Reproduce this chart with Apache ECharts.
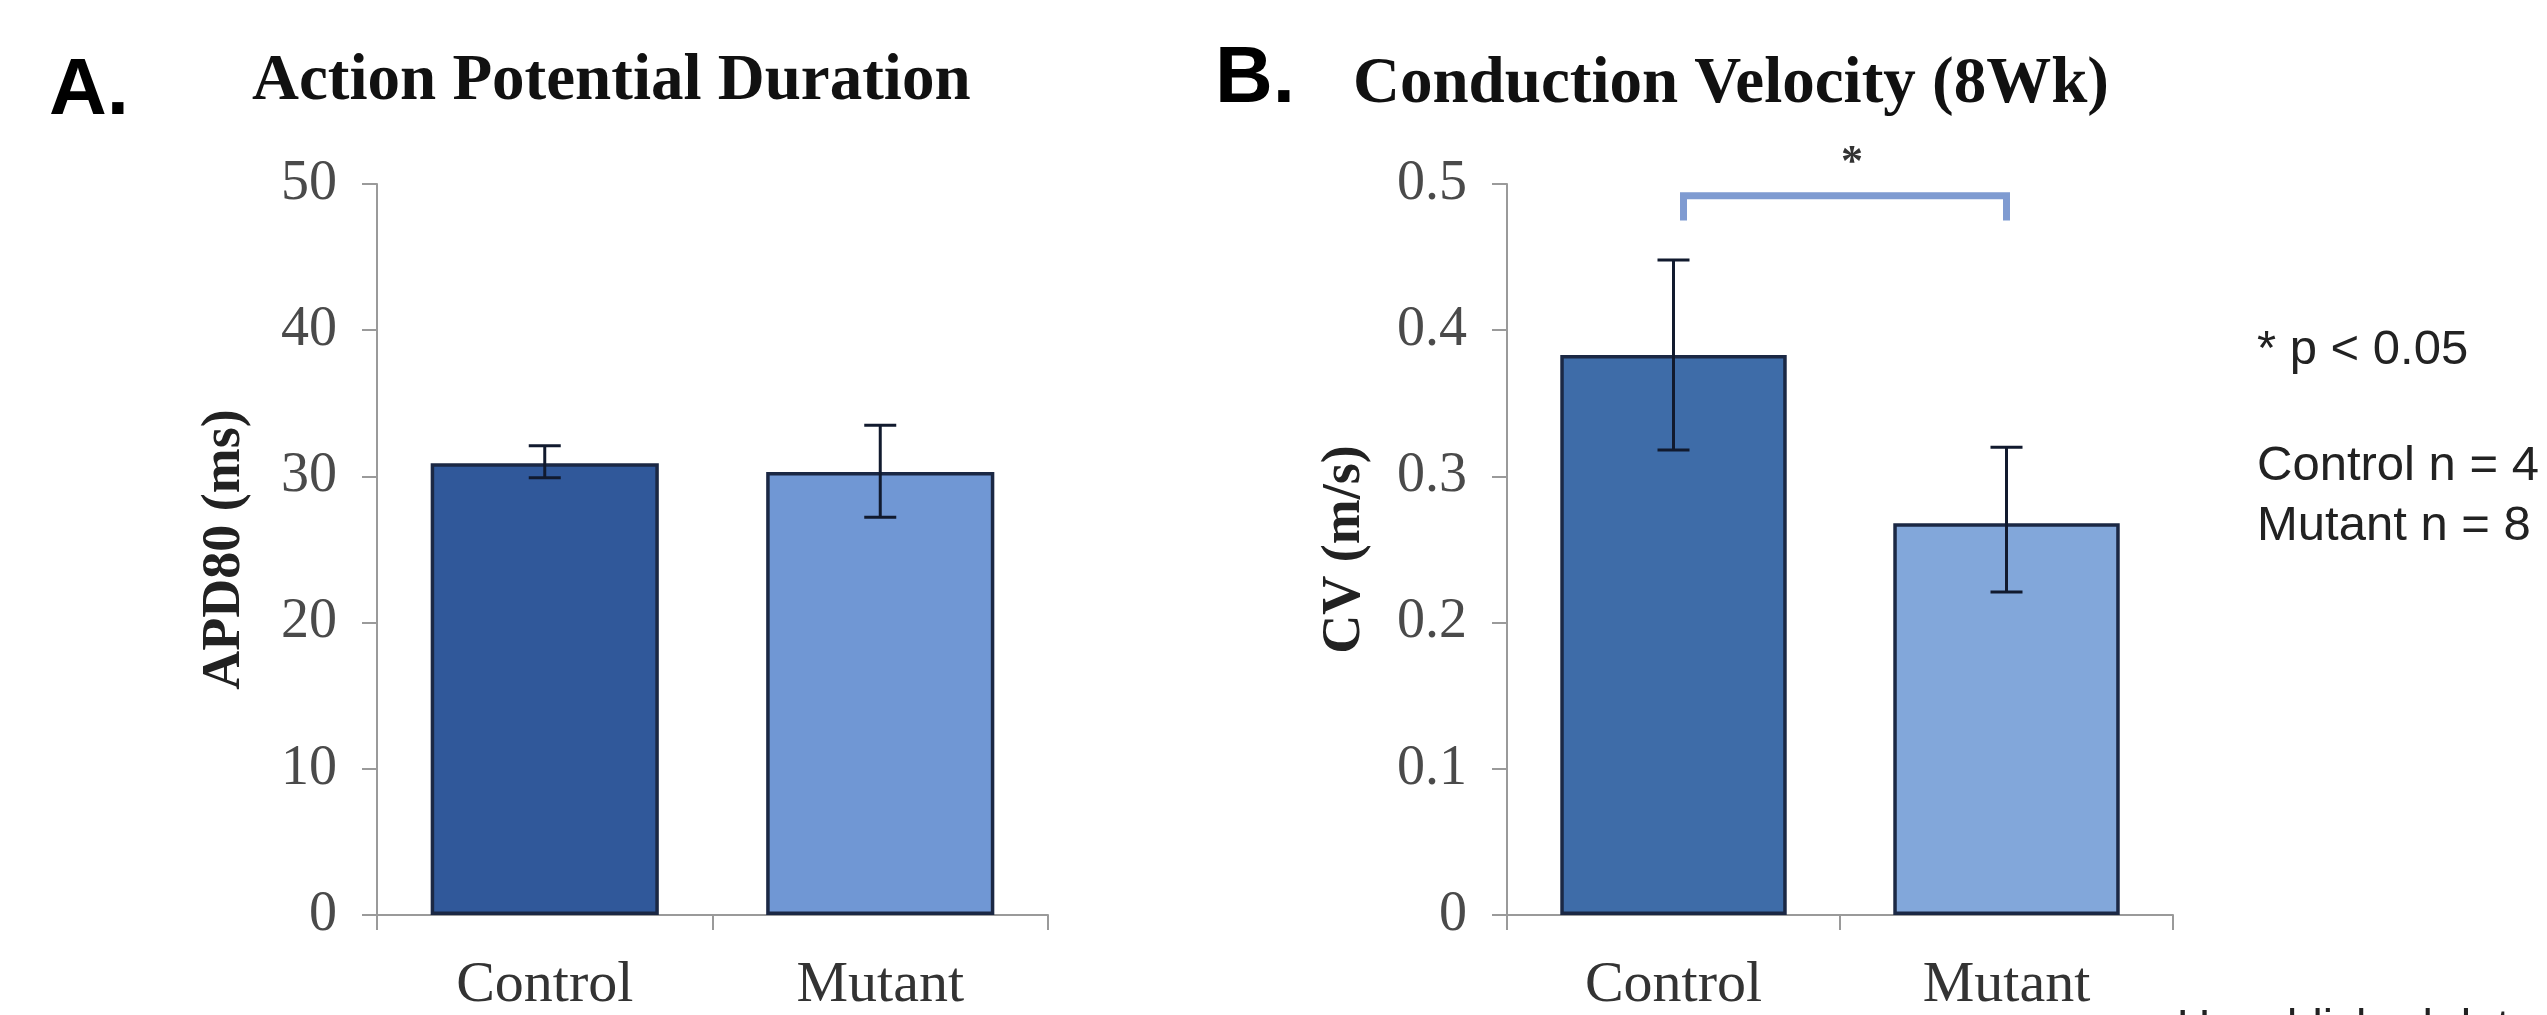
<!DOCTYPE html>
<html>
<head>
<meta charset="utf-8">
<script src="https://cdn.jsdelivr.net/npm/echarts@6/dist/echarts.min.js"></script>
<style>html,body{margin:0;padding:0;background:#fff;}#c{width:2547px;height:1015px;}</style>
</head>
<body>
<div id="c"></div>
<script>
// ---- data ----
const categories = ['Control', 'Mutant'];
const apdMean = [30.9, 30.3];
const apdLow = [29.9, 27.2];
const apdHigh = [32.1, 33.5];
const cvMean = [0.383, 0.268];
const cvLow = [0.318, 0.221];
const cvHigh = [0.448, 0.320];
const apdTicks = [0, 10, 20, 30, 40, 50];
const cvTicks = [0, 0.1, 0.2, 0.3, 0.4, 0.5];
const sigBracket = [0.492, 0.475]; // top, leg end
const sigStarY = 0.514;

const colorsA = ['#30589a', '#7097d4'];
const colorsB = ['#3e6ca8', '#82a7da'];
const serif = "'Liberation Serif', 'DejaVu Serif', serif";
const sans = "'Liberation Sans', Arial, sans-serif";

const chart = echarts.init(document.getElementById('c'));

function yAxisCfg(gridIndex, ticks, name, nameGap, fmt) {
  return {
    type: 'value', gridIndex, min: ticks[0], max: ticks[ticks.length - 1], interval: ticks[1] - ticks[0],
    name, nameLocation: 'middle', nameGap,
    nameTextStyle: { fontFamily: serif, fontWeight: 'bold', fontSize: 54, color: '#222' },
    axisLine: { show: true, lineStyle: { color: '#9a9a9a', width: 2 } },
    axisTick: { show: true, length: 15, lineStyle: { color: '#9a9a9a', width: 2 } },
    splitLine: { show: false },
    axisLabel: { fontFamily: serif, fontSize: 56, color: '#4a4a4a', margin: 40, formatter: fmt }
  };
}
function xAxisCfg(gridIndex) {
  return {
    type: 'category', gridIndex, data: categories,
    axisLine: { show: true, lineStyle: { color: '#9a9a9a', width: 2 } },
    axisTick: { show: true, length: 15, lineStyle: { color: '#9a9a9a', width: 2 } },
    axisLabel: { fontFamily: serif, fontSize: 58, color: '#333', margin: 42 }
  };
}
function errRender(params, api) {
  const x = api.value(0);
  const lo = api.coord([x, api.value(1)]);
  const hi = api.coord([x, api.value(2)]);
  const w = 16;
  const st = { stroke: '#111a2e', lineWidth: 3 };
  return { type: 'group', children: [
    { type: 'line', shape: { x1: lo[0], y1: lo[1], x2: hi[0], y2: hi[1] }, style: st },
    { type: 'line', shape: { x1: lo[0]-w, y1: lo[1], x2: lo[0]+w, y2: lo[1] }, style: st },
    { type: 'line', shape: { x1: hi[0]-w, y1: hi[1], x2: hi[0]+w, y2: hi[1] }, style: st }
  ]};
}
function barData(vals, cols) {
  return vals.map((v, i) => ({ value: v, itemStyle: { color: cols[i] } }));
}

chart.setOption({
  backgroundColor: '#fff',
  animation: false,
  grid: [
    { left: 377, width: 671, top: 184, height: 731 },
    { left: 1507, width: 666, top: 184, height: 731 }
  ],
  xAxis: [xAxisCfg(0), xAxisCfg(1)],
  yAxis: [
    yAxisCfg(0, apdTicks, 'APD80 (ms)', 125, v => String(v)),
    yAxisCfg(1, cvTicks, 'CV (m/s)', 135, v => v === 0 ? '0' : v.toFixed(1))
  ],
  series: [
    { type: 'bar', xAxisIndex: 0, yAxisIndex: 0, data: barData(apdMean, colorsA), barWidth: '68%',
      itemStyle: { borderColor: '#1b2844', borderWidth: 3.5 } },
    { type: 'custom', xAxisIndex: 0, yAxisIndex: 0, renderItem: errRender,
      data: categories.map((c, i) => [i, apdLow[i], apdHigh[i]]), z: 5 },
    { type: 'bar', xAxisIndex: 1, yAxisIndex: 1, data: barData(cvMean, colorsB), barWidth: '68%',
      itemStyle: { borderColor: '#1b2844', borderWidth: 3.5 } },
    { type: 'custom', xAxisIndex: 1, yAxisIndex: 1, renderItem: errRender,
      data: categories.map((c, i) => [i, cvLow[i], cvHigh[i]]), z: 5 },
    { type: 'custom', xAxisIndex: 1, yAxisIndex: 1, clip: false,
      data: [[0, 1, sigBracket[0], sigBracket[1], sigStarY]],
      renderItem: function (params, api) {
        const a = api.coord([api.value(0), api.value(3)]);
        const b = api.coord([api.value(0), api.value(2)]);
        const c = api.coord([api.value(1), api.value(2)]);
        const d = api.coord([api.value(1), api.value(3)]);
        const sy = api.coord([api.value(0), api.value(4)])[1];
        const sx = (a[0] + d[0]) / 2;
        return { type: 'group', children: [
          { type: 'polyline', shape: { points: [[a[0]+10, a[1]], [b[0]+10, b[1]], [c[0], c[1]], [d[0], d[1]]] },
            style: { stroke: '#7f9bd1', lineWidth: 7, fill: null } },
          { type: 'text', x: sx + 12, y: sy, style: { text: '*', fontFamily: serif, fontSize: 44,
            fontWeight: 'bold', fill: '#333', align: 'center', verticalAlign: 'middle' } }
        ]};
      } }
  ],
  graphic: [
    { type: 'text', left: 49, top: 52, style: { text: 'A.', fontFamily: sans, fontWeight: 'bold', fontSize: 80, fill: '#000' } },
    { type: 'text', left: 1215, top: 40, style: { text: 'B.', fontFamily: sans, fontWeight: 'bold', fontSize: 80, fill: '#000' } },
    { type: 'text', left: 252, top: 50, style: { text: 'Action Potential Duration', fontFamily: serif, fontWeight: 'bold', fontSize: 65, fill: '#111' } },
    { type: 'text', left: 1353, top: 53, style: { text: 'Conduction Velocity (8Wk)', fontFamily: serif, fontWeight: 'bold', fontSize: 65, fill: '#111' } },
    { type: 'text', left: 2257, top: 326, style: { text: '* p < 0.05', fontFamily: sans, fontSize: 49, fill: '#222' } },
    { type: 'text', left: 2257, top: 442, style: { text: 'Control n = 4', fontFamily: sans, fontSize: 49, fill: '#222' } },
    { type: 'text', left: 2257, top: 502, style: { text: 'Mutant n = 8', fontFamily: sans, fontSize: 49, fill: '#222' } },
    { type: 'text', left: 2177, top: 1006, style: { text: 'Unpublished data, Ch', fontFamily: sans, fontSize: 46, fill: '#222' } }
  ]
});
</script>
</body>
</html>
